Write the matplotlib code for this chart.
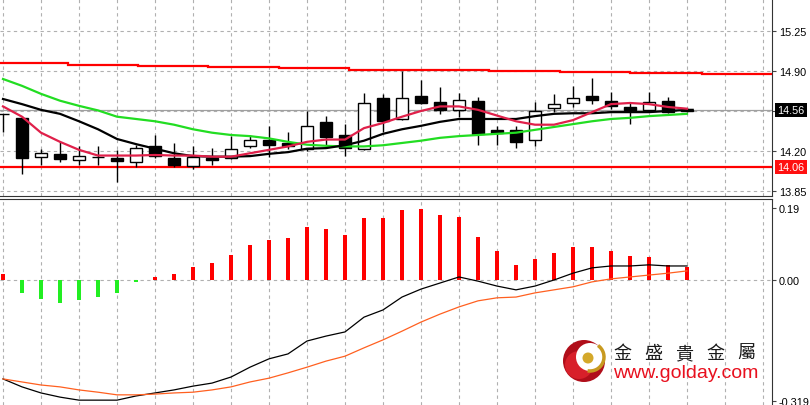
import matplotlib.pyplot as plt
import matplotlib.patches as mpatches
import numpy as np

plt.rcParams['font.family'] = ['Liberation Sans', 'DejaVu Sans']

# daily candles (oldest -> newest)
opens = [14.52, 14.49, 14.15, 14.17, 14.12, 14.15, 14.14, 14.10, 14.24, 14.14,
         14.07, 14.14, 14.14, 14.24, 14.30, 14.27, 14.22, 14.45, 14.34, 14.22,
         14.66, 14.48, 14.68, 14.63, 14.56, 14.64, 14.38, 14.38, 14.30, 14.58,
         14.62, 14.68, 14.64, 14.585, 14.56, 14.64, 14.55]
highs = [14.52, 14.51, 14.22, 14.28, 14.24, 14.24, 14.21, 14.25, 14.34, 14.27,
         14.24, 14.23, 14.33, 14.34, 14.42, 14.37, 14.55, 14.51, 14.44, 14.71,
         14.70, 14.90, 14.82, 14.76, 14.71, 14.67, 14.42, 14.42, 14.63, 14.70,
         14.77, 14.84, 14.72, 14.63, 14.72, 14.67, 14.58]
lows = [14.37, 14.00, 14.08, 14.10, 14.08, 14.08, 13.93, 14.06, 14.14, 14.06,
        14.04, 14.08, 14.13, 14.23, 14.15, 14.22, 14.20, 14.24, 14.16, 14.21,
        14.37, 14.47, 14.61, 14.52, 14.50, 14.25, 14.25, 14.23, 14.245, 14.54,
        14.585, 14.61, 14.57, 14.44, 14.54, 14.53, 14.54]
closes = [14.52, 14.14, 14.18, 14.13, 14.16, 14.15, 14.11, 14.23, 14.16, 14.08,
          14.15, 14.12, 14.22, 14.30, 14.25, 14.24, 14.42, 14.32, 14.23, 14.62,
          14.46, 14.66, 14.62, 14.56, 14.65, 14.35, 14.36, 14.28, 14.55, 14.61,
          14.66, 14.645, 14.595, 14.56, 14.63, 14.545, 14.56]

# moving averages
red_ma = [14.59, 14.50, 14.36, 14.28, 14.21, 14.16, 14.16, 14.16, 14.165, 14.16,
          14.16, 14.15, 14.15, 14.18, 14.21, 14.24, 14.28, 14.30, 14.30, 14.40,
          14.445, 14.50, 14.55, 14.59, 14.59, 14.56, 14.51, 14.46, 14.43, 14.43,
          14.47, 14.54, 14.61, 14.62, 14.61, 14.585, 14.57]
black_ma = [14.655, 14.61, 14.56, 14.525, 14.46, 14.39, 14.305, 14.26, 14.22, 14.18,
            14.155, 14.15, 14.15, 14.155, 14.175, 14.19, 14.22, 14.225, 14.25, 14.29,
            14.35, 14.39, 14.42, 14.455, 14.48, 14.48, 14.48, 14.48, 14.505, 14.525,
            14.53, 14.53, 14.54, 14.54, 14.54, 14.55, 14.56]
green_ma = [14.83, 14.77, 14.70, 14.64, 14.595, 14.555, 14.50, 14.48, 14.46, 14.43,
            14.39, 14.36, 14.34, 14.33, 14.31, 14.28, 14.255, 14.245, 14.24, 14.24,
            14.25, 14.27, 14.29, 14.315, 14.33, 14.34, 14.35, 14.36, 14.385, 14.41,
            14.435, 14.46, 14.48, 14.49, 14.505, 14.515, 14.525]

# resistance (stepped) and support lines
band_steps = [-0.16, 3.42, 7.1, 10.8, 14.5, 18.2, 21.9, 25.6, 29.3, 33.0, 36.8, 40.5]
band_levels = [14.97, 14.953, 14.944, 14.935, 14.926, 14.913, 14.909, 14.90, 14.891, 14.883, 14.87]
support = 14.06
last_price = 14.56

price_ticks = [13.85, 14.20, 14.55, 14.90, 15.25]
price_labels = ['13.85', '14.20', '', '14.90', '15.25']

# MACD panel
hist = [0.016, -0.034, -0.050, -0.061, -0.053, -0.045, -0.034, -0.006, 0.007, 0.016,
        0.034, 0.045, 0.066, 0.092, 0.105, 0.111, 0.140, 0.135, 0.119, 0.164,
        0.164, 0.185, 0.187, 0.172, 0.166, 0.113, 0.077, 0.040, 0.055, 0.071,
        0.087, 0.087, 0.077, 0.063, 0.061, 0.040, 0.034]
macd = [-0.261, -0.282, -0.298, -0.309, -0.317, -0.317, -0.317, -0.306, -0.298, -0.290,
        -0.280, -0.272, -0.256, -0.230, -0.208, -0.195, -0.161, -0.148, -0.137, -0.098,
        -0.079, -0.045, -0.024, -0.008, 0.008, -0.003, -0.016, -0.026, -0.016, 0.000,
        0.018, 0.032, 0.037, 0.037, 0.040, 0.037, 0.037]
signal = [-0.261, -0.269, -0.277, -0.282, -0.290, -0.296, -0.303, -0.303, -0.301, -0.298,
          -0.296, -0.290, -0.282, -0.269, -0.259, -0.245, -0.230, -0.214, -0.201, -0.179,
          -0.158, -0.135, -0.111, -0.090, -0.071, -0.055, -0.047, -0.045, -0.034, -0.026,
          -0.018, -0.005, 0.003, 0.008, 0.013, 0.018, 0.024]
macd_ticks = [-0.319, 0.0, 0.19]
macd_labels = ['-0.319', '0.00', '0.19']

W, H = 810, 406
fig = plt.figure(figsize=(W / 100, H / 100), dpi=100)


def box(x0, y0, x1, y1):
    # pixel box (top-left origin) -> figure fraction
    return [x0 / W, 1 - y1 / H, (x1 - x0) / W, (y1 - y0) / H]


ax = fig.add_axes(box(0, 0, 772, 197))
ax2 = fig.add_axes(box(0, 200, 772, 406))
n = len(closes)
idx = np.arange(n)
xlim = (-3 / 19, 769 / 19)
grid_kw = dict(color='#b0b0b0', lw=0.8, ls=(0, (3, 3)), zorder=0)

for a in (ax, ax2):
    a.set_xlim(*xlim)
    a.set_xticks(np.arange(0, 41, 2))
    a.tick_params(axis='x', length=0, labelbottom=False)
    a.yaxis.tick_right()
    a.tick_params(axis='y', length=3, width=0.8, color='#444444', labelsize=7.8, pad=2)
    for s in ('left', 'top'):
        a.spines[s].set_visible(False)
    a.spines['right'].set_color('#333333')
    a.spines['bottom'].set_color('#333333')
    for xt in a.get_xticks():
        a.axvline(xt, **grid_kw)

# ---- price panel
ax.set_ylim(13.806, 15.53)
ax.set_yticks(price_ticks)
ax.set_yticklabels(price_labels)
for yt in price_ticks:
    ax.axhline(yt, **grid_kw)
ax.axhline(last_price, color='#a0a0a0', lw=0.9, zorder=0.5)

ax.stairs(band_levels, band_steps, color='#ff0000', lw=1.6, baseline=None, zorder=1)
ax.axhline(support, color='#ff0000', lw=1.6, zorder=1)

for i in idx:
    o, h, l, c = opens[i], highs[i], lows[i], closes[i]
    ax.vlines(i, l, h, color='black', lw=1, zorder=2)
    if abs(c - o) < 0.005:
        ax.hlines(c, i - 0.32, i + 0.32, color='black', lw=1, zorder=2)
    else:
        ax.add_patch(mpatches.Rectangle((i - 0.32, min(o, c)), 0.64, abs(c - o),
                                        fc='white' if c > o else 'black',
                                        ec='black', lw=1, zorder=2))

ax.plot(idx, green_ma, color='#22dd22', lw=1.6, zorder=3)
ax.plot(np.append(idx, n - 0.7), black_ma + [black_ma[-1]], color='black', lw=1.6, zorder=3)
ax.plot(idx, red_ma, color='#e0204a', lw=1.6, zorder=3)

lab_tr = ax.get_yaxis_transform()
ax.text(1.007, last_price, '14.56', transform=lab_tr, ha='left', va='center',
        fontsize=7.8, color='white',
        bbox=dict(boxstyle='square,pad=0.2', fc='black', ec='none'))
ax.text(1.007, support, '14.06', transform=lab_tr, ha='left', va='center',
        fontsize=7.8, color='white',
        bbox=dict(boxstyle='square,pad=0.2', fc='#ff1010', ec='none'))

# ---- MACD panel
ax2.set_ylim(-0.3298, 0.2137)
ax2.set_yticks(macd_ticks)
ax2.set_yticklabels(macd_labels)
ax2.axhline(0, **grid_kw)
ax2.spines['top'].set_visible(True)
ax2.spines['top'].set_color('#333333')
ax2.spines['bottom'].set_visible(False)
cols = ['#ff0000' if v >= 0 else '#22ee22' for v in hist]
ax2.bar(idx, hist, width=0.24, color=cols, zorder=2)
ax2.plot(idx, macd, color='black', lw=0.9, zorder=3)
ax2.plot(idx, signal, color='#ff6020', lw=0.9, zorder=3)

# ---- watermark logo
lax = fig.add_axes([0, 0, 1, 1])
lax.set_xlim(0, W)
lax.set_ylim(H, 0)
lax.axis('off')
lax.add_patch(mpatches.Circle((584, 362), 21, fc='#b00e1a', ec='none'))
lax.add_patch(mpatches.Circle((579, 366), 14, fc='#d8202a', ec='none'))
lax.add_patch(mpatches.Circle((590, 358), 14, fc='white', ec='none'))
lax.add_patch(mpatches.Arc((590, 358), 28, 28, theta1=-55, theta2=100, color='#c89a20', lw=2.5))
lax.add_patch(mpatches.Circle((588, 359), 5.5, fc='#d4a82a', ec='none'))
for k, ch in enumerate('金盛貴金屬'):
    lax.text(622 + 31 * k, 354, ch, fontsize=13, family=['Noto Sans CJK TC'],
             color='#1a1a1a', ha='center', va='center')
lax.text(613, 378, 'www.golday.com', fontsize=14, color='#e8101e',
         ha='left', va='baseline')

fig.savefig('out.png', dpi=100)
